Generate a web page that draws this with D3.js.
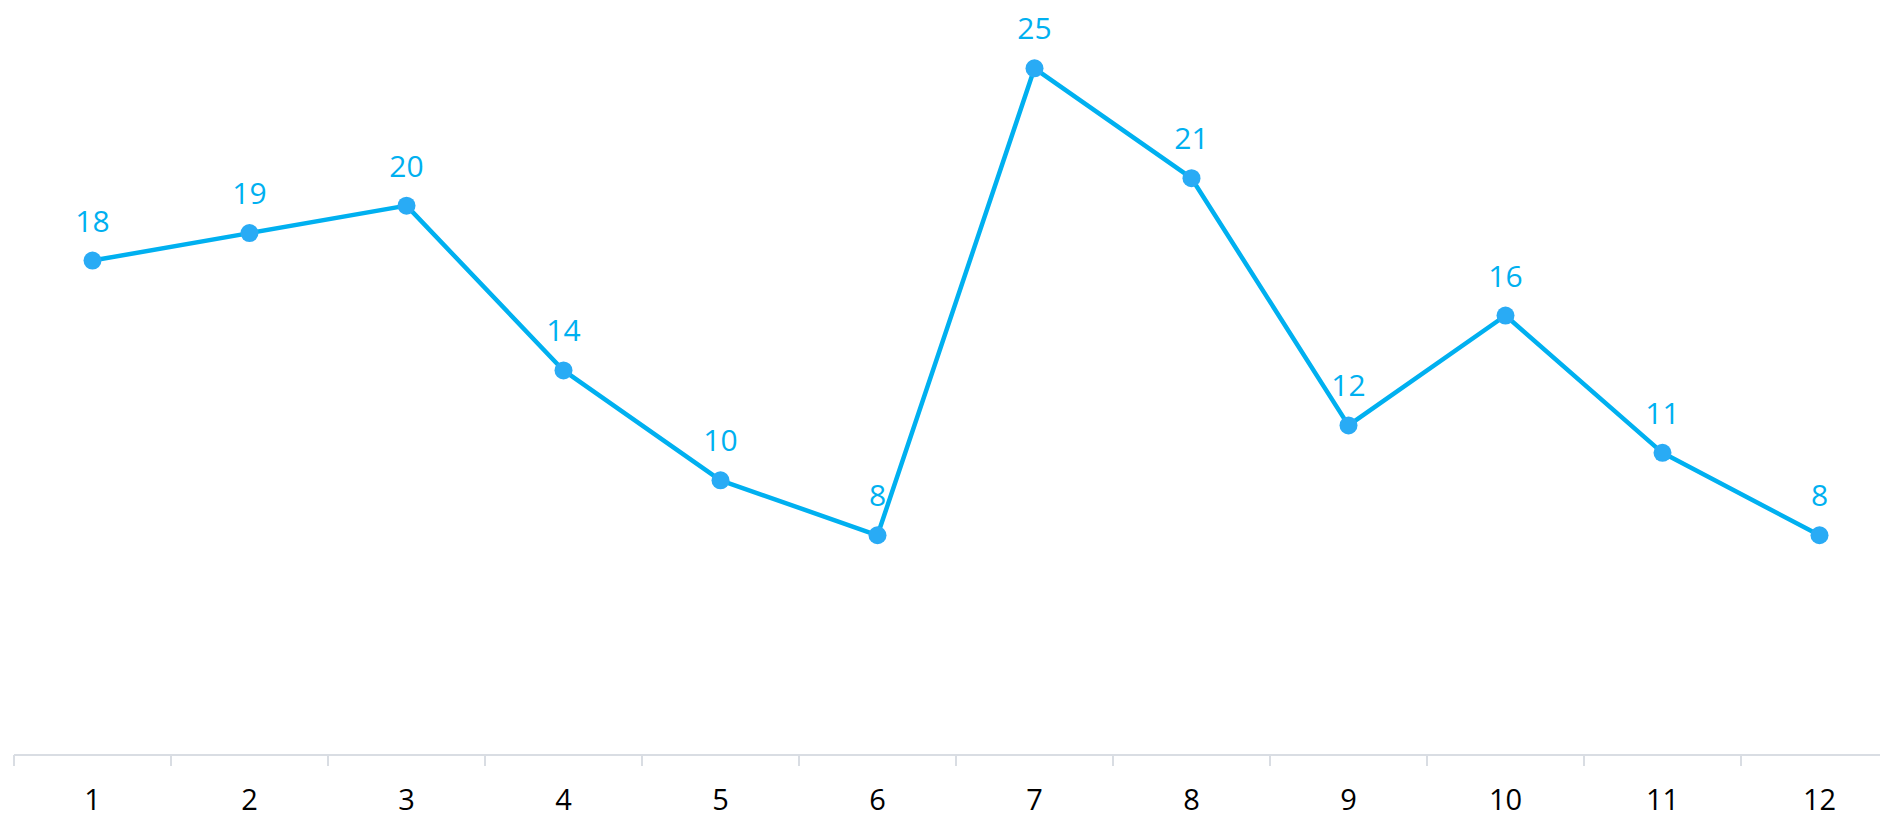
<!DOCTYPE html>
<html><head><meta charset="utf-8">
<script src="https://cdn.jsdelivr.net/npm/d3@7"></script>
<style>html,body{margin:0;padding:0;background:#fff;overflow:hidden}</style>
</head><body>
<svg id="chart" width="1880" height="819"></svg>
<script>
const categories = ["1","2","3","4","5","6","7","8","9","10","11","12"];
const values = [18,19,20,14,10,8,25,21,12,16,11,8];

const svg = d3.select("#chart");
const font = "'Open Sans', 'Liberation Sans', sans-serif";
const x = d3.scaleBand().domain(categories).range([14, 1898]);
const y = d3.scaleLinear().domain([0, 25]).range([755, 68.3]);

// axis
const axis = d3.axisBottom(x).tickSize(11).tickSizeOuter(0);
const g = svg.append("g").attr("transform", "translate(0,755)").call(axis);
g.select(".domain").attr("stroke", "#D9DDE3").attr("stroke-width", 2).attr("d", "M14,0H1880");
g.selectAll(".tick line").attr("stroke", "#D9DDE3").attr("stroke-width", 2)
  .attr("transform", d => `translate(${-x.bandwidth()/2},0)`);
g.selectAll(".tick text").attr("fill", "#000").attr("font-family", font)
  .attr("font-size", 29).attr("dy", null).attr("y", 55);

const cx = d => x(d) + x.bandwidth()/2;
const data = categories.map((c,i) => ({c, v: values[i]}));

svg.append("path").datum(data)
  .attr("fill", "none").attr("stroke", "#00B0F0").attr("stroke-width", 4.5)
  .attr("stroke-linejoin", "round")
  .attr("d", d3.line().x(d => cx(d.c)).y(d => y(d.v)));

svg.selectAll("circle.pt").data(data).join("circle")
  .attr("class","pt").attr("cx", d => cx(d.c)).attr("cy", d => y(d.v))
  .attr("r", 9).attr("fill", "#29ABF5");

svg.selectAll("text.lbl").data(data).join("text")
  .attr("class","lbl").attr("x", d => cx(d.c)).attr("y", d => y(d.v) - 29)
  .attr("text-anchor","middle").attr("fill","#00B0F0")
  .attr("font-family", font).attr("font-size", 30)
  .text(d => d.v);
</script>
</body></html>
